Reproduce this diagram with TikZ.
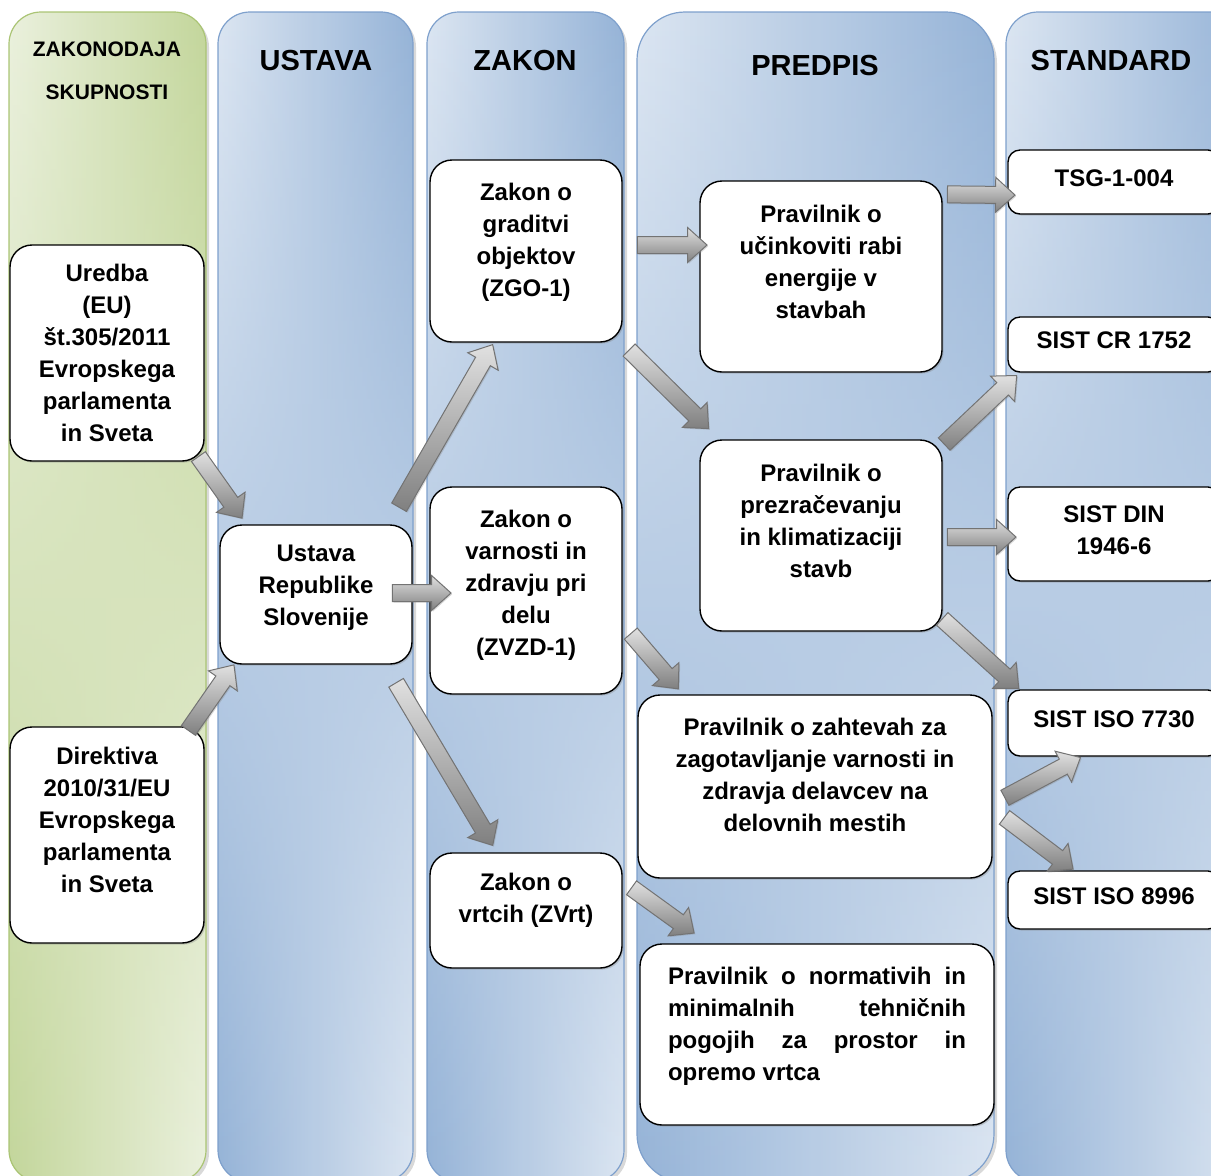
\documentclass[tikz,border=0pt]{standalone}
\usepackage{fontspec}
\setmainfont{Liberation Sans}
\usetikzlibrary{calc,positioning,shapes.arrows,shadows,fadings}

\definecolor{bluelight}{RGB}{220,230,242}
\definecolor{bluedark}{RGB}{149,179,215}
\definecolor{blueline}{RGB}{126,160,204}
\definecolor{greenlight}{RGB}{235,241,222}
\definecolor{greendark}{RGB}{195,214,155}
\definecolor{greenline}{RGB}{170,196,116}

\tikzfading[name=fadeup, top color=transparent!100, bottom color=transparent!0]

\tikzset{
  box/.style={draw, line width=0.7pt, fill=white, rounded corners=11pt, align=center,
    font=\fontsize{12}{16}\selectfont\bfseries, inner sep=2pt,
    drop shadow={shadow xshift=0.8pt, shadow yshift=-0.8pt, opacity=0.35}},
  stdbox/.style={box, rounded corners=6pt, minimum width=106pt, text depth=4pt},
  heading/.style={font=\fontsize{14.5}{17}\selectfont\bfseries},
  blockarrow/.style={single arrow, inner xsep=0pt, inner ysep=4pt,
    single arrow head extend=4.5pt, single arrow tip angle=84,
    draw=black!55, line width=0.5pt, top color=black!12, bottom color=black!50,
    drop shadow={shadow xshift=0.6pt, shadow yshift=-0.6pt, opacity=0.3}}
}

% column background: x1, x2, radius, light, dark, line
\newcommand{\lane}[6]{%
  \path[drop shadow={shadow xshift=1.5pt, shadow yshift=-1.5pt, opacity=0.3},
    left color=#4, right color=#5, rounded corners=#3] (#1,12) rectangle (#2,1182);
  \path[left color=#5, right color=#4, path fading=fadeup, rounded corners=#3]
    (#1,12) rectangle (#2,1182);
  \draw[#6, line width=0.6pt, rounded corners=#3] (#1,12) rectangle (#2,1182);}

% fat arrow: name, from, to
\newcommand{\linkarrow}[3]{%
  \path let \p1=(#2), \p2=(#3), \n1={atan2(\y2-\y1,\x2-\x1)},
    \n2={veclen(\x2-\x1,\y2-\y1)} in
    node[blockarrow, rotate=\n1, minimum height=\n2] (#1) at ($(\p1)!0.5!(\p2)$) {};}

\begin{document}
\begin{tikzpicture}[x=0.5pt,y=-0.5pt]
  \useasboundingbox (0,0) rectangle (1211,1175);
  \clip (0,0) rectangle (1211,1175);

  % columns
  \lane{9}{206}{16pt}{greenlight}{greendark}{greenline}
  \lane{218}{413}{16pt}{bluelight}{bluedark}{blueline}
  \lane{427}{624}{16pt}{bluelight}{bluedark}{blueline}
  \lane{637}{994}{24pt}{bluelight}{bluedark}{blueline}
  \lane{1006}{1250}{16pt}{bluelight}{bluedark}{blueline}

  % headings
  \node[font=\fontsize{10.5}{21.5}\selectfont\bfseries, align=center] (hskup) at (107,71) {ZAKONODAJA\\SKUPNOSTI};
  \node[heading] (hustava) at (316,61) {USTAVA};
  \node[heading] (hzakon) at (525,61) {ZAKON};
  \node[heading] (hpredpis) at (815,66) {PREDPIS};
  \node[heading] (hstandard) at (1111,61) {STANDARD};

  % boxes
  \node[box, minimum width=97pt, minimum height=108pt] (uredba) at (107,353)
    {Uredba\\(EU)\\št.305/2011\\Evropskega\\parlamenta\\in Sveta};
  \node[box, minimum width=97pt, minimum height=108pt, text depth=15pt] (direktiva) at (107,835)
    {Direktiva\\2010/31/EU\\Evropskega\\parlamenta\\in Sveta};
  \node[box, minimum width=96pt, minimum height=69.5pt, text depth=9pt] (ustava) at (316,594.5)
    {Ustava\\Republike\\Slovenije};
  \node[box, minimum width=96pt, minimum height=91pt, text depth=11pt] (zgo) at (526,251)
    {Zakon o\\graditvi\\objektov\\(ZGO-1)};
  \node[box, minimum width=96pt, minimum height=103.5pt, text depth=8pt] (zvzd) at (526,590.5)
    {Zakon o\\varnosti in\\zdravju pri\\delu\\(ZVZD-1)};
  \node[box, minimum width=96pt, minimum height=57.5pt, text depth=13pt] (zvrt) at (526,910.5)
    {Zakon o\\vrtcih (ZVrt)};
  \node[box, minimum width=121pt, minimum height=95.5pt, text depth=15pt] (energija) at (821,276.5)
    {Pravilnik o\\učinkoviti rabi\\energije v\\stavbah};
  \node[box, minimum width=121pt, minimum height=95.5pt, text depth=15pt] (prezrac) at (821,535.5)
    {Pravilnik o\\prezračevanju\\in klimatizaciji\\stavb};
  \node[box, minimum width=177pt, minimum height=91.5pt, text depth=12pt] (zahteve) at (815,786.5)
    {Pravilnik o zahtevah za\\zagotavljanje varnosti in\\zdravja delavcev na\\delovnih mestih};
  \node[box, minimum width=177pt, minimum height=90.5pt, align=left, text depth=11pt] (normativi) at (817,1034.5)
    {\makebox[149pt]{Pravilnik\hfill o\hfill normativih\hfill in}\\\makebox[149pt]{minimalnih\hfill tehničnih}\\\makebox[149pt]{pogojih\hfill za\hfill prostor\hfill in}\\\makebox[149pt][l]{opremo vrtca}};

  \node[stdbox, minimum height=32pt] (tsg) at (1114,182) {TSG-1-004};
  \node[stdbox, minimum height=27.5pt] (cr) at (1114,344.5) {SIST CR 1752};
  \node[stdbox, minimum height=47pt] (din) at (1114,534) {SIST DIN\\1946-6};
  \node[stdbox, minimum height=33pt] (iso7730) at (1114,723) {SIST ISO 7730};
  \node[stdbox, minimum height=29pt] (iso8996) at (1114,900) {SIST ISO 8996};

  % arrows
  \linkarrow{a1}{[shift={(-9,-9)}]uredba.south east}{[shift={(20,-10)}]ustava.north west}
  \linkarrow{a2}{[shift={(-19,8)}]direktiva.north east}{[shift={(12,4)}]ustava.south west}
  \linkarrow{a3}{[shift={(-16,-13)}]ustava.north east}{[shift={(61,6)}]zgo.south west}
  \linkarrow{a4}{[shift={(-25,-1.5)}]ustava.east}{[shift={(17,2.5)}]zvzd.west}
  \linkarrow{a5}{[shift={(-19,14)}]ustava.south east}{[shift={(61,-11)}]zvrt.north west}
  \linkarrow{a6}{[shift={(10,-6)}]zgo.east}{[shift={(3,-31.5)}]energija.west}
  \linkarrow{a7}{[shift={(3,4)}]zgo.south east}{[shift={(6,-14)}]prezrac.north west}
  \linkarrow{a8}{[shift={(5,39.5)}]zvzd.east}{[shift={(38,-9)}]zahteve.north west}
  \linkarrow{a9}{[shift={(5,-25.5)}]zvrt.east}{[shift={(51,-13)}]normativi.north west}
  \linkarrow{a10}{[shift={(0,14)}]energija.north east}{[shift={(3,13)}]tsg.west}
  \linkarrow{a11}{[shift={(-2,8)}]prezrac.north east}{[shift={(6,6)}]cr.south west}
  \linkarrow{a12}{[shift={(0,1.5)}]prezrac.east}{[shift={(4,3)}]din.west}
  \linkarrow{a13}{[shift={(-4,-16)}]prezrac.south east}{[shift={(8,-4)}]iso7730.north west}
  \linkarrow{a14}{[shift={(8,13.5)}]zahteve.east}{[shift={(69,3)}]iso7730.south west}
  \linkarrow{a15}{[shift={(8,28)}]zahteve.east}{[shift={(62,-4)}]iso8996.north west}
\end{tikzpicture}
\end{document}
